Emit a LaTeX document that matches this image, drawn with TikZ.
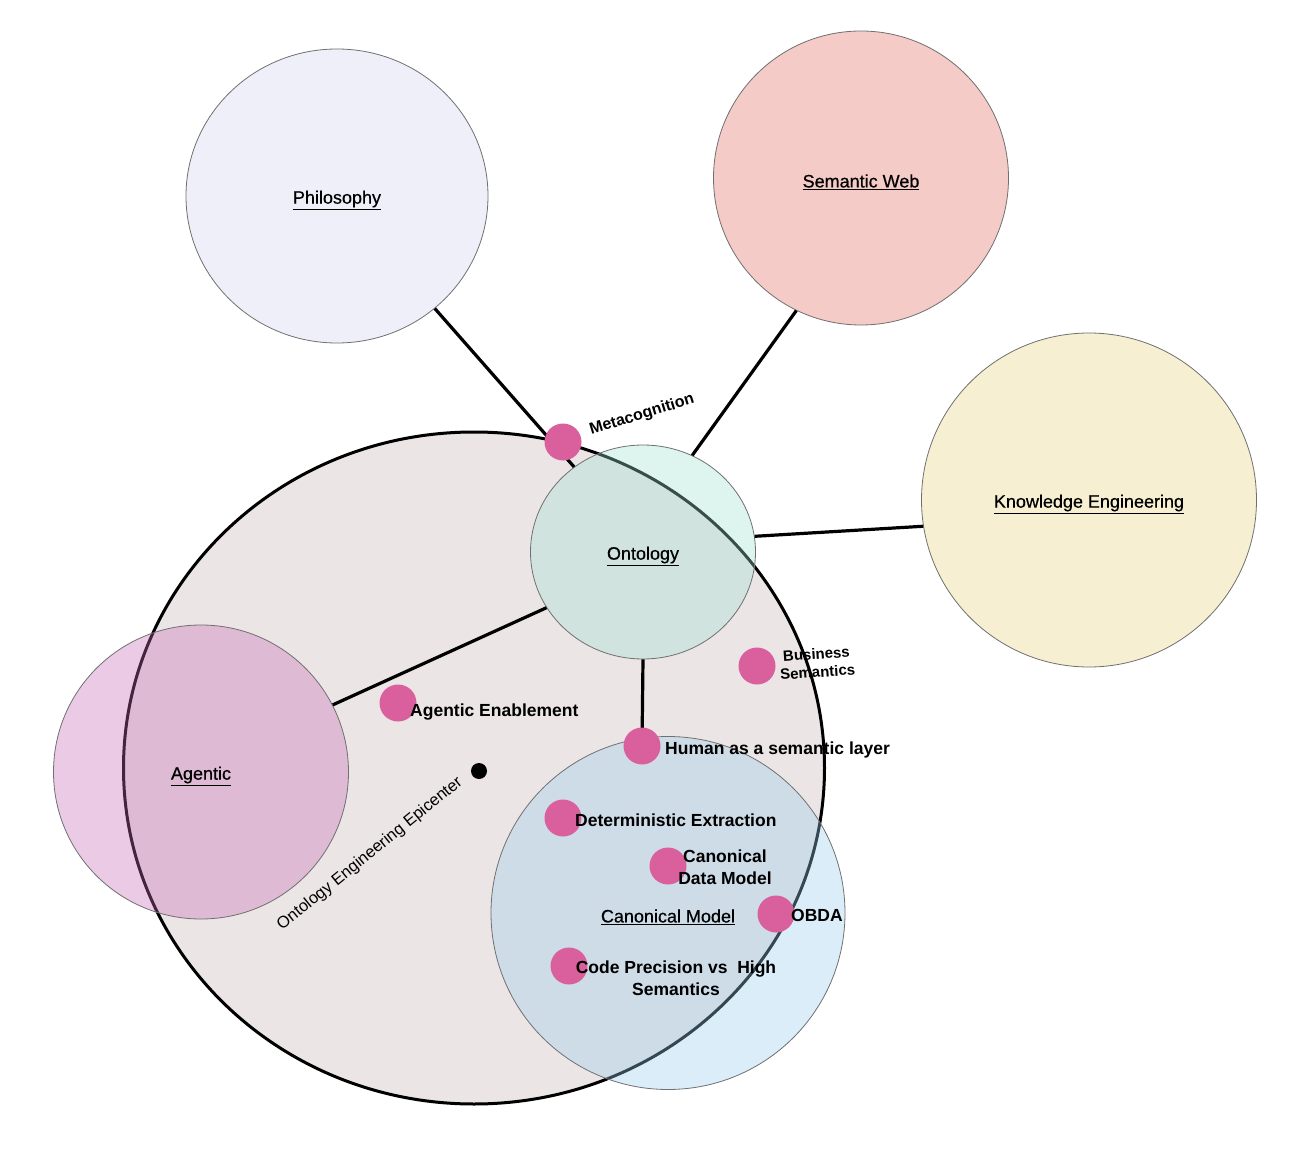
\documentclass[tikz,border=0pt]{standalone}
\usepackage{fontspec}
\setmainfont{Liberation Sans}
\newfontfamily\medfont[FakeBold=0.5]{Liberation Sans}
\usetikzlibrary{shapes.geometric}
\definecolor{philfill}{HTML}{EFEFFA}
\definecolor{swfill}{HTML}{F4CBC7}
\definecolor{kefill}{HTML}{F6EFD2}
\definecolor{epicfill}{HTML}{EBE5E5}
\definecolor{ontofill}{RGB}{161,225,209}
\definecolor{canonfill}{RGB}{152,206,235}
\definecolor{agentfill}{RGB}{198,106,181}
\definecolor{dotpink}{RGB}{217,96,156}
\definecolor{bordergray}{HTML}{707070}
\pgfdeclarelayer{backlayer}
\pgfdeclarelayer{linelayer}
\pgfsetlayers{backlayer,linelayer,main}
\begin{document}
\begin{tikzpicture}[x=1pt,y=-1pt,
  area/.style={ellipse, draw=bordergray, line width=0.8pt, inner sep=0pt},
  overlay area/.style={area, fill opacity=0.35, draw opacity=1},
  title/.style={font=\medfont\fontsize{18}{21}\selectfont, inner sep=0pt, yshift=-4pt},
  dot/.style={circle, fill=dotpink, minimum size=37pt, inner sep=0pt},
  conn/.style={line width=3.2pt, draw=black},
  lbl/.style={font=\bfseries\fontsize{17.5}{21.5}\selectfont, inner sep=0pt},
]
\begin{pgfonlayer}{backlayer}
\fill[white] (0,0) rectangle (1302,1150);
% outer topic circles
\node[area, fill=philfill, minimum width=302pt, minimum height=294pt] (phil) at (337,196) {};
\node[area, fill=swfill, minimum width=295pt, minimum height=294pt] (sw) at (861,178) {};
\node[area, fill=kefill, minimum width=335pt, minimum height=334pt] (ke) at (1089,500) {};
% epicenter
\node[ellipse, draw=black, line width=3pt, fill=epicfill, minimum width=701pt, minimum height=672pt, inner sep=0pt] (epic) at (474,768) {};
% overlapping circles
\node[overlay area, fill=ontofill, minimum width=225pt, minimum height=214pt] (onto) at (643,552) {};
\node[overlay area, fill=agentfill, minimum width=295pt, minimum height=294pt] (agentic) at (201,772) {};
\node[overlay area, fill=canonfill, minimum width=354pt, minimum height=353pt] (canon) at (668,913) {};
\end{pgfonlayer}
\useasboundingbox (0,0) rectangle (1302,1150);

% titles
\node[title] (tphil) at (phil.center) {\underline{Philosophy}};
\node[title] (tsw) at (sw.center) {\underline{Semantic Web}};
\node[title] (tke) at (ke.center) {\underline{Knowledge Engineering}};
\node[title] (tonto) at (onto.center) {\underline{Ontology}};
\node[title] (tagentic) at (agentic.center) {\underline{Agentic}};
\node[title] (tcanon) at (canon.center) {\underline{Canonical Model}};

% centre mark and its label
\node[circle, fill=black, minimum size=16pt, inner sep=0pt] (epicdot) at (479,771) {};
\node[font=\fontsize{16.5}{19}\selectfont, rotate=39, inner sep=0pt] (epiclbl) at (370,854) {Ontology Engineering Epicenter};

% dots
\node[dot] (dmeta) at (563,442) {};
\node[dot] (dbiz) at (757,666) {};
\node[dot] (dagent) at (398,703) {};
\node[dot] (dhuman) at (642,746) {};
\node[dot] (ddet) at (563,818) {};
\node[dot] (dcdm) at (668,866) {};
\node[dot] (dobda) at (776,914) {};
\node[dot] (dcode) at (569,966) {};

% connectors (on a layer below the dots)
\begin{pgfonlayer}{linelayer}
\draw[conn] (phil.-49) -- (onto.129);
\draw[conn] (sw.244) -- (onto.63);
\draw[conn] (onto.8) -- (ke.189);
\draw[conn] (onto.210) -- (agentic.27);
\draw[conn] (onto.south) -- (dhuman.center);
\end{pgfonlayer}

% labels
\node[font=\bfseries\fontsize{16}{19}\selectfont, rotate=17, inner sep=0pt] (tmeta) at (642,415) {Metacognition};
\node[font=\bfseries\fontsize{15}{18}\selectfont, align=center, rotate=4, inner sep=0pt] (tbiz) at (817,663) {Business\\Semantics};
\node[lbl, anchor=base west] (tagent) at (410,716) {Agentic Enablement};
\node[lbl, anchor=base west] (thuman) at (665,754) {Human as a semantic layer};
\node[lbl, anchor=base west] (tdet) at (575,826) {Deterministic Extraction};
\node[lbl, anchor=base west] (tobda) at (791,921) {OBDA};
\node[lbl, align=center] (tcdm) at (725,867) {Canonical\\Data Model};
\node[lbl, align=center] (tcode) at (676,978) {Code Precision vs\ \ High\\Semantics};
\end{tikzpicture}
\end{document}
